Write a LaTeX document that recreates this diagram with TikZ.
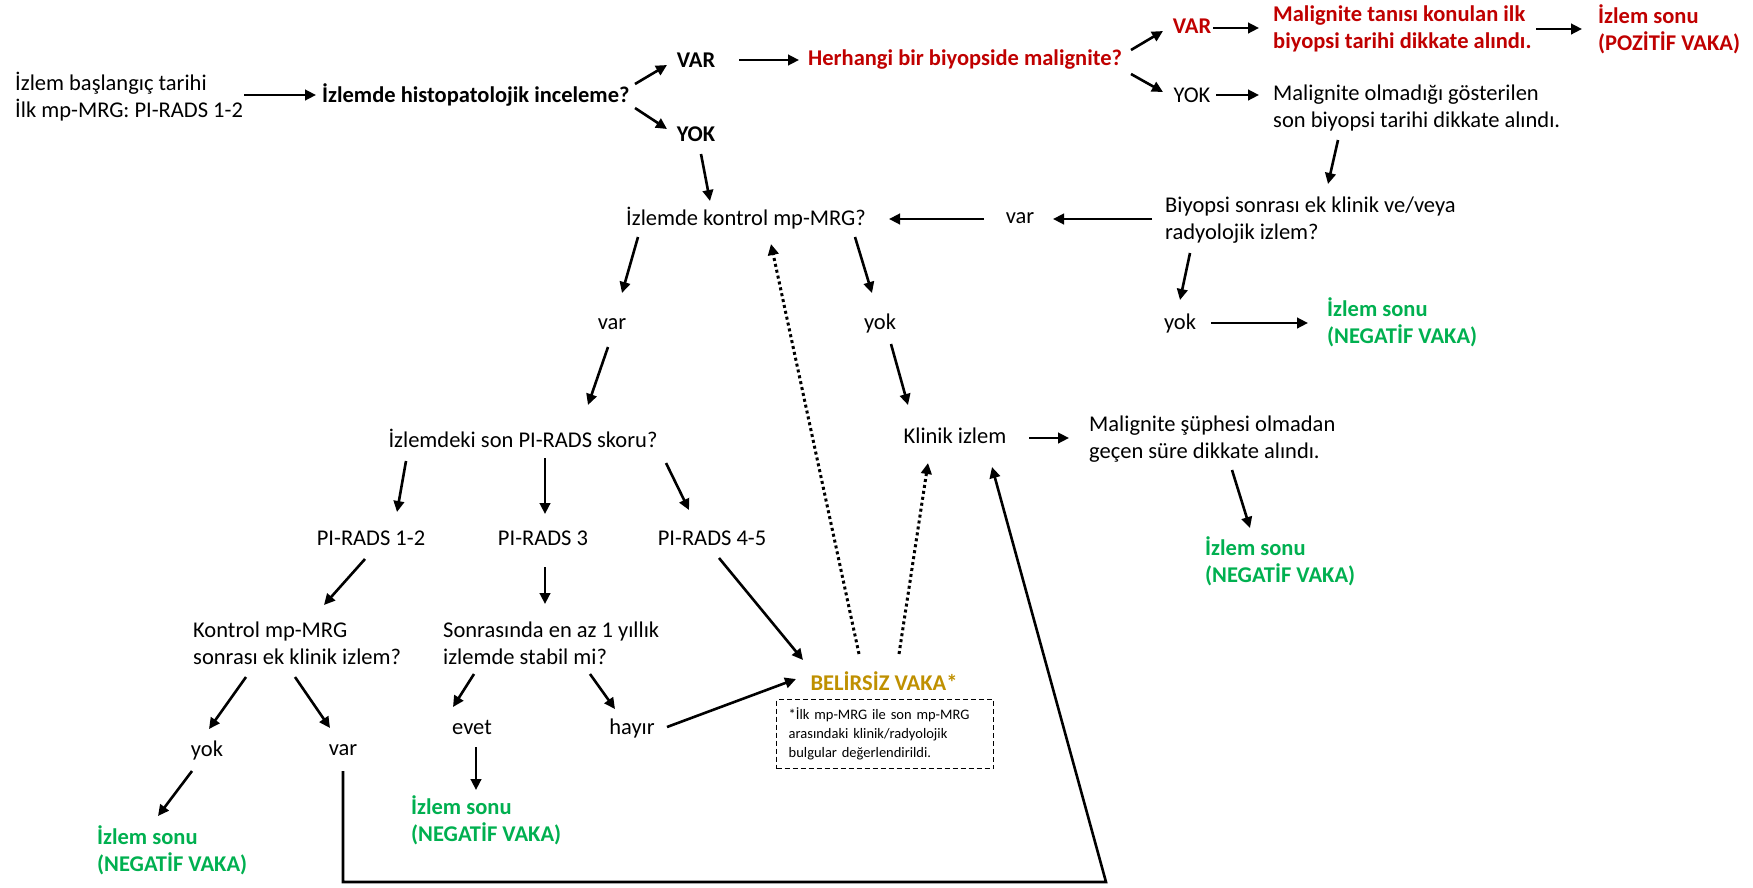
\documentclass[tikz,border=0pt]{standalone}
\usepackage{fontspec}
\setmainfont{Carlito}
\usetikzlibrary{arrows.meta}
\definecolor{posred}{HTML}{C00000}
\definecolor{neggreen}{HTML}{00B050}
\definecolor{unsure}{HTML}{BF9000}
\tikzset{
  txt/.style={inner sep=0pt, align=left, font=\fontsize{22.5}{27}\selectfont},
  bld/.style={txt, font=\fontsize{22.5}{27}\selectfont\bfseries},
  redtxt/.style={bld, text=posred},
  greentxt/.style={bld, text=neggreen},
  arr/.style={line width=2.6pt, -{Triangle[length=11pt,width=10.5pt]}},
  dotarr/.style={line width=3pt, dash pattern=on 3pt off 3pt, -{Triangle[length=11pt,width=10.5pt]}},
  notebox/.style={draw, line width=1.4pt, dash pattern=on 5pt off 3pt, inner xsep=12pt, inner ysep=0pt,
    minimum width=217pt, minimum height=69pt, align=left, text width=193pt,
    font=\fontsize{14.5}{19}\selectfont}
}
\begin{document}
\begin{tikzpicture}[x=1pt,y=-1pt]
\path[use as bounding box, fill=white] (0,0) rectangle (1753,887);

% top row: start and histopathology question
\node[txt, anchor=west] (start) at (15,97) {İzlem başlangıç tarihi\\İlk mp-MRG: PI-RADS 1-2};
\node[bld, anchor=west] (histo) at (322,95) {İzlemde histopatolojik inceleme?};
\node[bld] (var1) at (696,60) {VAR};
\node[bld] (yok1) at (696,134) {YOK};
\node[redtxt, anchor=west] (herh) at (808,60) {Herhangi bir biyopside malignite?};
\node[redtxt] (var2) at (1192,26) {VAR};
\node[redtxt, anchor=west] (maltan) at (1273,29) {Malignite tanısı konulan ilk\\biyopsi tarihi dikkate alındı.};
\node[redtxt, anchor=west] (pos) at (1598,29) {İzlem sonu\\(POZİTİF VAKA)};
\node[txt] (yok2) at (1192,95) {YOK};
\node[txt, anchor=west] (malolm) at (1273,108) {Malignite olmadığı gösterilen\\son biyopsi tarihi dikkate alındı.};
\node[txt, anchor=west] (biyop) at (1165,220) {Biyopsi sonrası ek klinik ve/veya\\radyolojik izlem?};
\node[txt] (var3) at (1020,218) {var};
\node[txt] (kontrol) at (746,218) {İzlemde kontrol mp-MRG?};
\node[txt] (yok3) at (1180,323) {yok};
\node[greentxt, anchor=west] (neg1) at (1327,322) {İzlem sonu\\(NEGATİF VAKA)};

% middle: control MRI branches
\node[txt] (var4) at (612,324) {var};
\node[txt] (yok4) at (880,323) {yok};
\node[txt] (pirads) at (523,438) {İzlemdeki son PI-RADS skoru?};
\node[txt] (klinik) at (955,436) {Klinik izlem};
\node[txt, anchor=west] (malsup) at (1089,439) {Malignite şüphesi olmadan\\geçen süre dikkate alındı.};
\node[greentxt, anchor=west] (neg2) at (1205,561) {İzlem sonu\\(NEGATİF VAKA)};
\node[txt] (pr12) at (371,538) {PI-RADS 1-2};
\node[txt] (pr3) at (543,538) {PI-RADS 3};
\node[txt] (pr45) at (712,538) {PI-RADS 4-5};

% lower part
\node[txt, anchor=west] (kmrg) at (193,643) {Kontrol mp-MRG\\sonrası ek klinik izlem?};
\node[txt, anchor=west] (sonr) at (443,643) {Sonrasında en az 1 yıllık\\izlemde stabil mi?};
\node[txt] (yok5) at (207,750) {yok};
\node[txt] (var5) at (343,750) {var};
\node[greentxt, anchor=west] (neg3) at (97,850) {İzlem sonu\\(NEGATİF VAKA)};
\node[txt] (evet) at (472,727) {evet};
\node[txt] (hayir) at (632,728) {hayır};
\node[greentxt, anchor=west] (neg4) at (411,820) {İzlem sonu\\(NEGATİF VAKA)};
\node[bld, text=unsure] (bel) at (884,681) {BELİRSİZ VAKA*};
\node[notebox, anchor=north west] (note) at (776,699)
  {*İlk mp-MRG ile son mp-MRG\\arasındaki klinik/radyolojik\\bulgular değerlendirildi.};

% connectors
\draw[arr] ([shift={(229,-2)}]start.west) -- ([shift={(-6,0)}]histo.west);
\draw[arr] ([shift={(313,-11)}]histo.west) -- ([shift={(-29,5)}]var1.center);
\draw[arr] ([shift={(313,13)}]histo.west) -- ([shift={(-29,-5)}]yok1.center);
\draw[arr] ([shift={(43,0)}]var1.center) -- ([shift={(-9,0)}]herh.west);
\draw[arr] ([shift={(323,-10)}]herh.west) -- ([shift={(-29,5)}]var2.center);
\draw[arr] ([shift={(21,2)}]var2.center) -- ([shift={(-14,-1)}]maltan.west);
\draw[arr] ([shift={(263,0)}]maltan.west) -- ([shift={(-16,0)}]pos.west);
\draw[arr] ([shift={(323,14)}]herh.west) -- ([shift={(-29,-3)}]yok2.center);
\draw[arr] ([shift={(24,0)}]yok2.center) -- ([shift={(-14,-13)}]malolm.west);
\draw[arr] ([shift={(65,32)}]malolm.west) -- ([shift={(163,-36)}]biyop.west);
\draw[arr] ([shift={(-13,-1)}]biyop.west) -- ([shift={(33,1)}]var3.center);
\draw[arr] ([shift={(-36,1)}]var3.center) -- ([shift={(143,1)}]kontrol.center);
\draw[arr] ([shift={(5,20)}]yok1.center) -- ([shift={(-36,-17)}]kontrol.center);
\draw[arr] ([shift={(25,33)}]biyop.west) -- ([shift={(0,-23)}]yok3.center);
\draw[arr] ([shift={(31,0)}]yok3.center) -- ([shift={(-19,1)}]neg1.west);
\draw[arr] ([shift={(-108,19)}]kontrol.center) -- ([shift={(10,-31)}]var4.center);
\draw[arr] ([shift={(109,19)}]kontrol.center) -- ([shift={(-8,-30)}]yok4.center);
\draw[arr] ([shift={(-4,23)}]var4.center) -- ([shift={(65,-33)}]pirads.center);
\draw[arr] ([shift={(11,21)}]yok4.center) -- ([shift={(-47,-31)}]klinik.center);
\draw[arr] ([shift={(74,2)}]klinik.center) -- ([shift={(-20,-1)}]malsup.west);
\draw[arr] ([shift={(143,31)}]malsup.west) -- ([shift={(45,-33)}]neg2.west);
\draw[arr] ([shift={(-117,23)}]pirads.center) -- ([shift={(26,-26)}]pr12.center);
\draw[arr] ([shift={(22,20)}]pirads.center) -- ([shift={(2,-24)}]pr3.center);
\draw[arr] ([shift={(143,25)}]pirads.center) -- ([shift={(-23,-28)}]pr45.center);
\draw[arr] ([shift={(-6,21)}]pr12.center) -- ([shift={(131,-38)}]kmrg.west);
\draw[arr] ([shift={(2,29)}]pr3.center) -- ([shift={(102,-39)}]sonr.west);
\draw[arr] ([shift={(7,20)}]pr45.center) -- ([shift={(-81,-21)}]bel.center);
\draw[arr] ([shift={(53,34)}]kmrg.west) -- ([shift={(2,-21)}]yok5.center);
\draw[arr] ([shift={(102,34)}]kmrg.west) -- ([shift={(-13,-22)}]var5.center);
\draw[arr] ([shift={(-15,21)}]yok5.center) -- ([shift={(61,-34)}]neg3.west);
\draw[arr] ([shift={(0,21)}]var5.center) -- ++(0,111) -- ++(763,0) -- ([shift={(37,31)}]klinik.center);
\draw[arr] ([shift={(31,31)}]sonr.west) -- ([shift={(-19,-20)}]evet.center);
\draw[arr] ([shift={(147,31)}]sonr.west) -- ([shift={(-17,-19)}]hayir.center);
\draw[arr] ([shift={(4,20)}]evet.center) -- ([shift={(65,-30)}]neg4.west);
\draw[arr] ([shift={(35,-1)}]hayir.center) -- ([shift={(-88,-2)}]bel.center);
\draw[dotarr] ([shift={(-25,-27)}]bel.center) -- ([shift={(25,26)}]kontrol.center);
\draw[dotarr] ([shift={(15,-27)}]bel.center) -- ([shift={(-27,27)}]klinik.center);
\end{tikzpicture}
\end{document}
